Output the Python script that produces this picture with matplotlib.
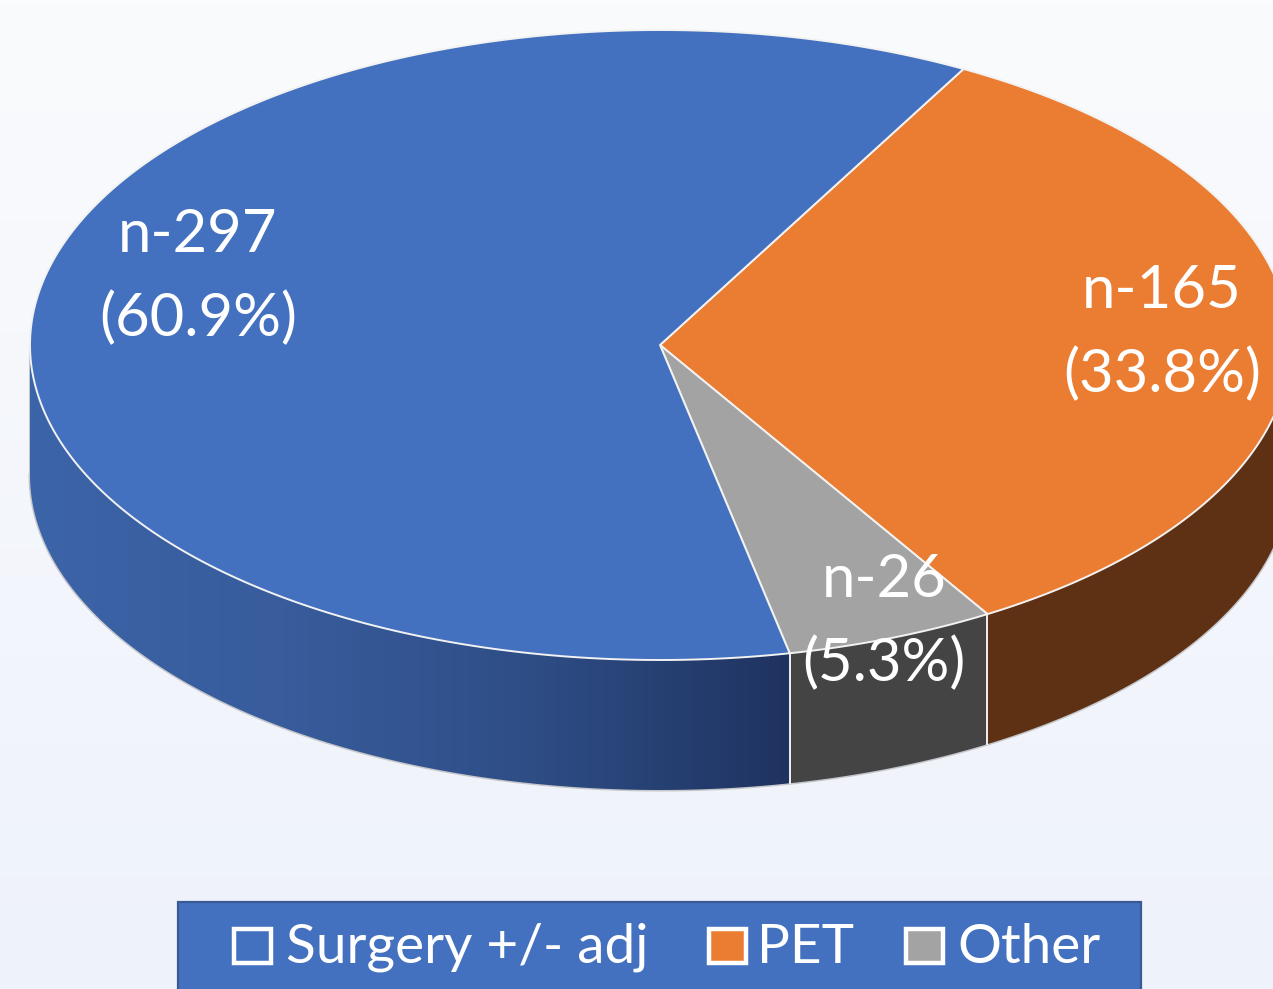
import matplotlib
matplotlib.use("Agg")
import matplotlib.pyplot as plt
import numpy as np
from matplotlib.patches import Polygon, Rectangle
from matplotlib.colors import LinearSegmentedColormap

labels = ['Surgery +/- adj', 'PET', 'Other']
counts = [297, 165, 26]
percents = ['60.9%', '33.8%', '5.3%']
# share of the ellipse each slice takes as drawn
drawn_shares = [61.3, 33.3, 5.4]
# clockwise from the top of the pie, starting with PET
draw_order = [1, 2, 0]
top_colors = ['#4371BF', '#EB7D32', '#A3A3A3']
side_colors = [None, '#5E3014', '#444444']

W, H = 1273, 989
cx, cy, rx, ry, depth = 660, 345, 630, 315, 130
start_angle = 28.8

plt.rcParams['font.family'] = ['Lato', 'DejaVu Sans']

fig = plt.figure(figsize=(W / 100, H / 100), dpi=100)
ax = fig.add_axes([0, 0, 1, 1])
ax.set_xlim(0, W)
ax.set_ylim(H, 0)
ax.axis('off')

bg = LinearSegmentedColormap.from_list('bg', ['#FAFBFD', '#EEF2FA'])
ax.imshow(np.linspace(0, 1, 256).reshape(-1, 1), cmap=bg, extent=[0, W, H, 0], aspect='auto', zorder=0)


def ell(angle):
    # angle in degrees, clockwise from north
    a = np.radians(angle)
    return cx + rx * np.sin(a), cy - ry * np.cos(a)


total = sum(drawn_shares)
angle = start_angle
wedges = {}
for i in draw_order:
    sweep = 360 * drawn_shares[i] / total
    wedges[i] = (angle, angle + sweep)
    angle += sweep

# outline of the whole side, grey rim
t = np.linspace(90, 270, 300)
x, y = ell(t)
ax.plot(x, y + depth, color='#C4C6CA', lw=2.2, zorder=1)
ax.plot([cx - rx, cx - rx], [cy, cy + depth], color='#C4C6CA', lw=2.2, zorder=1)

# side walls
side_cmap = LinearSegmentedColormap.from_list('side', ['#3C64A8', '#385C9C', '#2E4D85', '#1F3360'])
for i in draw_order:
    a1, a2 = wedges[i]
    lo, hi = max(a1, 90), min(a2, 270)
    t = np.linspace(lo, hi, 200)
    x, y = ell(t)
    pts = np.column_stack([np.r_[x, x[::-1]], np.r_[y, y[::-1] + depth]])
    if side_colors[i] is None:
        poly = Polygon(pts, closed=True, fc='none', ec='none', zorder=2)
        ax.add_patch(poly)
        im = ax.imshow(np.linspace(0, 1, 256).reshape(1, -1), cmap=side_cmap,
                       extent=[x.min(), x.max(), H, 0], aspect='auto', zorder=2)
        im.set_clip_path(poly)
    else:
        ax.add_patch(Polygon(pts, closed=True, fc=side_colors[i], ec='none', zorder=2))
    for a in (a1, a2):
        if 90 <= a <= 270:
            ex, ey = ell(a)
            ax.plot([ex, ex], [ey, ey + depth], color='#EDEDED', lw=1.3, zorder=3)

ax.set_xlim(0, W)
ax.set_ylim(H, 0)

# top face
for i in draw_order:
    a1, a2 = wedges[i]
    t = np.linspace(a1, a2, 400)
    x, y = ell(t)
    pts = np.column_stack([np.r_[cx, x], np.r_[cy, y]])
    ax.add_patch(Polygon(pts, closed=True, fc=top_colors[i], ec='#F2F2F2', lw=1.4,
                         joinstyle='round', zorder=4))

# data labels
label_pos = [(198, 277), (1162, 333), (884, 622)]
for i, (lx, ly) in zip(range(3), label_pos):
    ax.text(lx, ly, f'n-{counts[i]}\n({percents[i]})', color='white', fontsize=43,
            ha='center', va='center', linespacing=1.62, zorder=6)

# legend band
ax.add_patch(Rectangle((178, 902), 963, 95, fc='#4371BF', ec='#3A5A94', lw=1.6, zorder=5))
key_x = [234, 709, 906]
text_x = [286, 757, 957]
for i in range(3):
    ax.add_patch(Rectangle((key_x[i], 929), 37, 34, fc=top_colors[i], ec='white', lw=3.2, zorder=6))
    ax.text(text_x[i], 943, labels[i], color='white', fontsize=39.5, ha='left', va='center_baseline', zorder=6)

fig.savefig('out.png', dpi=100)
